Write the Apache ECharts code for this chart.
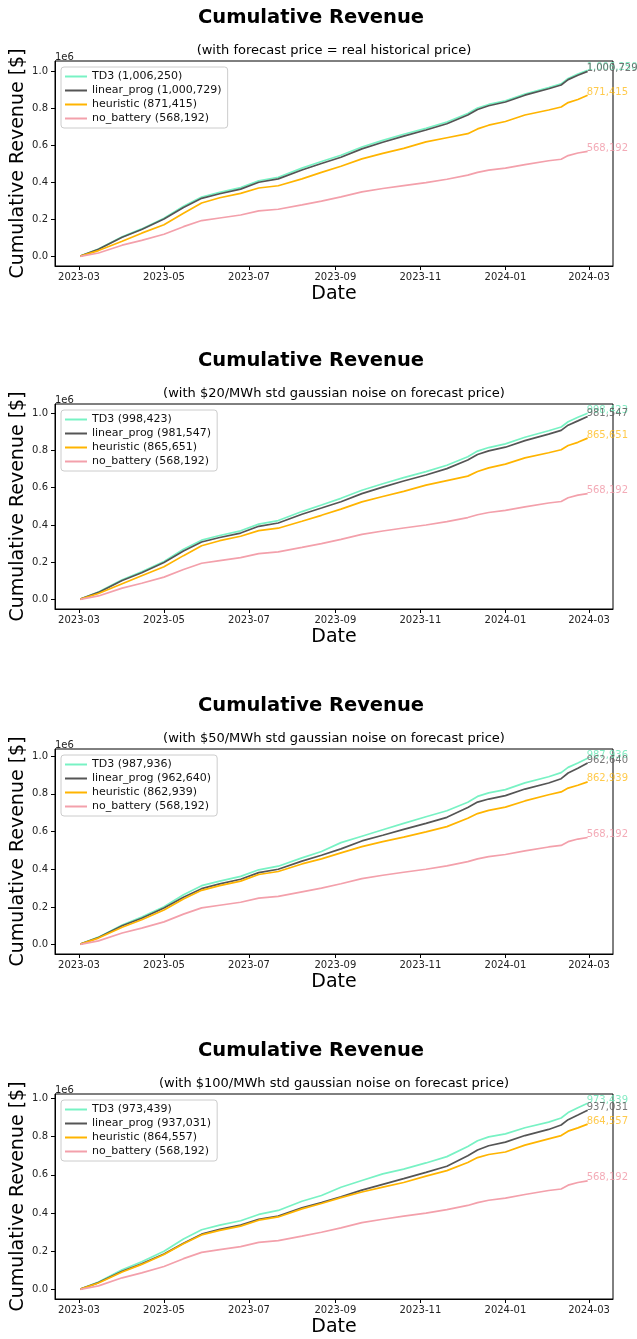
<!DOCTYPE html>
<html><head><meta charset="utf-8">
<script src="https://cdn.jsdelivr.net/npm/echarts@6/dist/echarts.min.js"></script>
<style>html,body{margin:0;padding:0;background:#fff}#c{width:637px;height:1339px}</style>
</head><body><div id="c"></div>
<script>
// ---------------- data (values in units of 1e6 $) ----------------
const dates = ['2023-03-02','2023-03-15','2023-04-01','2023-04-15','2023-05-01','2023-05-15','2023-05-28','2023-06-10','2023-06-25','2023-07-08','2023-07-22','2023-08-08','2023-08-22','2023-09-05','2023-09-20','2023-10-05','2023-10-20','2023-11-05','2023-11-20','2023-12-05','2023-12-12','2023-12-20','2024-01-01','2024-01-15','2024-02-01','2024-02-10','2024-02-15','2024-02-22','2024-02-29'];

const subtitles = [
  '(with forecast price = real historical price)',
  '(with $20/MWh std gaussian noise on forecast price)',
  '(with $50/MWh std gaussian noise on forecast price)',
  '(with $100/MWh std gaussian noise on forecast price)'
];
const seriesNames = ['TD3','linear_prog','heuristic','no_battery'];
const xTickLabels = ['2023-03','2023-05','2023-07','2023-09','2023-11','2024-01','2024-03'];
const yTickValues = [0, 0.2, 0.4, 0.6, 0.8, 1.0];

const noBattery = [0.002,0.020,0.062,0.088,0.121,0.162,0.195,0.209,0.225,0.247,0.256,0.280,0.300,0.323,0.350,0.368,0.384,0.400,0.418,0.440,0.455,0.467,0.478,0.497,0.518,0.526,0.546,0.560,0.568192];

// panel 1: forecast = real price
const td3P1  = [0.003,0.041,0.107,0.150,0.207,0.272,0.322,0.347,0.373,0.410,0.429,0.478,0.514,0.548,0.592,0.628,0.661,0.693,0.727,0.773,0.803,0.822,0.842,0.878,0.913,0.933,0.962,0.986,1.006250];
const linP1  = [0.003,0.040,0.105,0.147,0.203,0.266,0.315,0.340,0.365,0.402,0.420,0.468,0.503,0.537,0.582,0.618,0.651,0.684,0.718,0.765,0.795,0.815,0.835,0.872,0.907,0.927,0.956,0.980,1.000729];
const heuP1  = [0.003,0.033,0.083,0.127,0.172,0.235,0.290,0.318,0.342,0.371,0.383,0.420,0.455,0.488,0.528,0.558,0.585,0.620,0.642,0.664,0.690,0.710,0.730,0.765,0.792,0.808,0.832,0.849,0.871415];

// panel 2: $20/MWh noise
const td3P2  = [0.003,0.041,0.107,0.149,0.205,0.270,0.319,0.344,0.369,0.405,0.424,0.472,0.507,0.543,0.586,0.621,0.654,0.686,0.720,0.766,0.796,0.815,0.835,0.870,0.905,0.925,0.953,0.977,0.998423];
const linP2  = [0.003,0.039,0.103,0.144,0.199,0.261,0.309,0.333,0.357,0.393,0.411,0.458,0.491,0.525,0.568,0.603,0.636,0.668,0.702,0.748,0.778,0.797,0.817,0.852,0.887,0.907,0.935,0.958,0.981547];
const heuP2  = [0.003,0.033,0.085,0.128,0.176,0.236,0.289,0.316,0.340,0.370,0.383,0.420,0.452,0.485,0.524,0.553,0.580,0.614,0.638,0.662,0.687,0.706,0.726,0.760,0.787,0.803,0.826,0.843,0.865651];

// panel 3: $50/MWh noise
const td3P3  = [0.003,0.040,0.104,0.146,0.201,0.265,0.313,0.337,0.362,0.397,0.416,0.460,0.494,0.541,0.575,0.609,0.643,0.678,0.710,0.755,0.786,0.805,0.822,0.858,0.890,0.912,0.940,0.963,0.987936];
const linP3  = [0.003,0.038,0.100,0.140,0.194,0.252,0.297,0.322,0.347,0.382,0.400,0.443,0.474,0.508,0.550,0.580,0.611,0.643,0.675,0.727,0.756,0.772,0.790,0.825,0.857,0.880,0.910,0.935,0.962640];
const heuP3  = [0.003,0.035,0.092,0.132,0.184,0.242,0.288,0.313,0.337,0.372,0.388,0.428,0.455,0.487,0.520,0.546,0.570,0.598,0.626,0.670,0.695,0.712,0.729,0.762,0.795,0.810,0.830,0.845,0.862939];

// panel 4: $100/MWh noise
const td3P4  = [0.003,0.040,0.104,0.146,0.201,0.265,0.313,0.337,0.360,0.393,0.414,0.462,0.492,0.535,0.570,0.605,0.630,0.662,0.695,0.748,0.778,0.798,0.814,0.846,0.875,0.897,0.925,0.950,0.973439];
const linP4  = [0.003,0.037,0.096,0.135,0.186,0.243,0.290,0.315,0.337,0.368,0.385,0.428,0.455,0.485,0.520,0.550,0.580,0.613,0.645,0.700,0.730,0.752,0.771,0.805,0.837,0.860,0.888,0.912,0.937031];
const heuP4  = [0.003,0.035,0.092,0.132,0.184,0.240,0.286,0.310,0.332,0.363,0.380,0.422,0.450,0.481,0.510,0.536,0.560,0.593,0.622,0.664,0.690,0.706,0.719,0.755,0.788,0.805,0.828,0.845,0.864557];

const panels = [
  [td3P1, linP1, heuP1, noBattery],
  [td3P2, linP2, heuP2, noBattery],
  [td3P3, linP3, heuP3, noBattery],
  [td3P4, linP4, heuP4, noBattery]
];

// ---------------- styling ----------------
const FONT = 'DejaVu Sans';
const lineColors  = ['#78f2c4', '#555555', '#ffb400', '#f3a0ab'];
const labelColors = ['rgba(110,232,185,0.85)', 'rgba(85,85,85,0.8)', 'rgba(255,180,0,0.7)', 'rgba(240,150,165,0.8)'];
const gridTops = [61, 404, 749, 1094];
const gridLeft = 55, gridRight = 24, gridHeight = 205;
const W = 637;
const axisCenterX = gridLeft + (W - gridLeft - gridRight) / 2;

function fmt(v) { return Math.round(v * 1e6).toLocaleString('en-US'); }
function parseD(s) { const p = s.split('-').map(Number); return new Date(p[0], p[1] - 1, p[2] || 1).getTime(); }

const t0 = parseD(dates[0]), t1 = parseD(dates[dates.length - 1]);
const xPad = (t1 - t0) * 0.05;
const xTicks = xTickLabels.map(parseD);

const grids = [], xAxes = [], yAxes = [], series = [], legends = [], graphics = [];

panels.forEach((sers, i) => {
  const top = gridTops[i];
  grids.push({ left: gridLeft, right: gridRight, top: top, height: gridHeight, show: true, borderColor: '#000', borderWidth: 1,
    backgroundColor: 'transparent', containLabel: false, outerBoundsMode: 'none' });

  let ymax = -Infinity, ymin = Infinity;
  sers.forEach(a => a.forEach(v => { ymax = Math.max(ymax, v); ymin = Math.min(ymin, v); }));
  ymin = Math.min(ymin, 0);
  const yPad = (ymax - ymin) * 0.05;

  xAxes.push({
    type: 'value', gridIndex: i, min: t0 - xPad, max: t1 + xPad, scale: true,
    axisLine: { show: true, onZero: false, lineStyle: { color: '#000', width: 1 } },
    axisTick: { show: true, customValues: xTicks, length: 4, lineStyle: { color: '#000' } },
    axisLabel: { show: true, customValues: xTicks, margin: 6, color: '#222', fontSize: 10, fontFamily: FONT,
      formatter: v => { const d = new Date(v); return d.getFullYear() + '-' + String(d.getMonth() + 1).padStart(2, '0'); } },
    splitLine: { show: false },
    name: 'Date', nameLocation: 'middle', nameGap: 19, nameMoveOverlap: false,
    nameTextStyle: { fontSize: 19, fontFamily: FONT, color: '#000' }
  });
  yAxes.push({
    type: 'value', gridIndex: i, min: ymin - yPad, max: ymax + yPad,
    axisLine: { show: true, onZero: false, lineStyle: { color: '#000', width: 1 } },
    axisTick: { show: true, customValues: yTickValues, length: 4, lineStyle: { color: '#000' } },
    axisLabel: { show: true, customValues: yTickValues, margin: 7, color: '#222', fontSize: 10, fontFamily: FONT,
      formatter: v => Number(v).toFixed(1) },
    splitLine: { show: false },
    name: 'Cumulative Revenue [$]', nameLocation: 'middle', nameGap: 27, nameRotate: 90, nameMoveOverlap: false,
    nameTextStyle: { fontSize: 19, fontFamily: FONT, color: '#000' }
  });

  const names = [];
  sers.forEach((vals, k) => {
    const nm = seriesNames[k] + ' (' + fmt(vals[vals.length - 1]) + ')';
    names.push(nm);
    series.push({
      type: 'line', name: nm, xAxisIndex: i, yAxisIndex: i,
      data: dates.map((d, j) => [parseD(d), vals[j]]),
      symbol: 'none', showSymbol: false, smooth: false,
      lineStyle: { width: 1.7, color: lineColors[k] },
      itemStyle: { color: lineColors[k] },
      endLabel: { show: true, formatter: p => fmt(p.value[1]), color: labelColors[k], fontSize: 10, fontFamily: FONT, distance: 0, offset: [-1, -3] },
      emphasis: { disabled: true },
      animation: false
    });
  });

  legends.push({
    data: names, orient: 'vertical', left: gridLeft + 6, top: top + 6,
    icon: 'rect', itemWidth: 22, itemHeight: 2, itemGap: 3,
    padding: [4, 6, 4, 4],
    backgroundColor: 'rgba(255,255,255,0.8)', borderColor: '#cccccc', borderWidth: 1, borderRadius: 3,
    textStyle: { fontSize: 11, fontFamily: FONT, color: '#111' },
    selectedMode: false
  });

  graphics.push(
    { type: 'text', x: 311, y: top - 43, style: { text: 'Cumulative Revenue', font: 'bold 19.5px "DejaVu Sans"', fill: '#000', textAlign: 'center', textVerticalAlign: 'middle' } },
    { type: 'text', x: axisCenterX, y: top - 10, style: { text: subtitles[i], font: '13px "DejaVu Sans"', fill: '#000', textAlign: 'center', textVerticalAlign: 'middle' } },
    { type: 'text', x: gridLeft, y: top - 4, style: { text: '1e6', font: '10px "DejaVu Sans"', fill: '#222', textAlign: 'left', textVerticalAlign: 'middle' } }
  );
});

const chart = echarts.init(document.getElementById('c'), null, { renderer: 'canvas', width: 637, height: 1339 });
chart.setOption({
  backgroundColor: '#fff',
  animation: false,
  grid: grids, xAxis: xAxes, yAxis: yAxes, series: series, legend: legends, graphic: graphics,
  tooltip: { show: false }
});
</script>
</body></html>
